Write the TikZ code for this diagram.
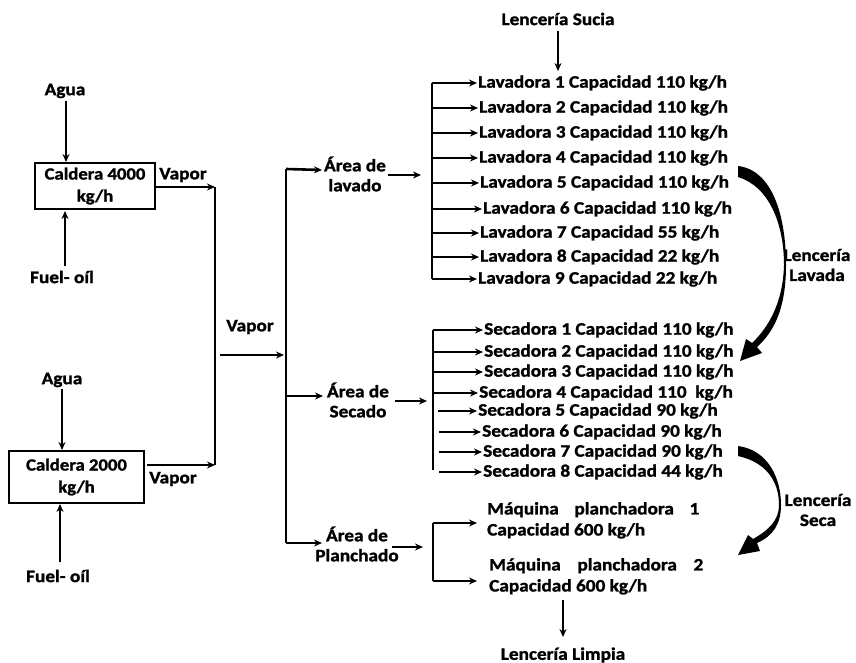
\documentclass[tikz,border=0pt]{standalone}
\usepackage{fontspec}
\setmainfont{Carlito}[FakeStretch=1.1, BoldFeatures={FakeBold=1.4}]
\usetikzlibrary{arrows.meta}
\tikzset{
  lbl/.style={font=\fontsize{17.5}{20}\selectfont\bfseries, inner sep=1pt, align=center},
  wire/.style={line width=2.6pt},
  arr/.style={line width=2.6pt, -{Stealth[length=8pt,width=7pt]}},
  boxst/.style={draw, line width=1.2pt, minimum width=120pt, minimum height=46pt, inner sep=1pt, align=center, font=\fontsize{17}{22}\selectfont\bfseries},
}
\begin{document}
\begin{tikzpicture}[x=1pt,y=-1pt]
\useasboundingbox (0,0) rectangle (856,663);
% boilers
\node[boxst] (c1) at (95,186) {Caldera 4000\\kg/h};
\node[boxst, minimum width=135pt, minimum height=52pt] (c2) at (76.5,477) {Caldera 2000\\kg/h};
\node[lbl] (a1) at (65,91) {Agua};
\node[lbl] (f1) at (62,277) {Fuel- oíl};
\node[lbl] (a2) at (62,380) {Agua};
\node[lbl] (f2) at (58,576) {Fuel- oíl};
\coordinate (a1b) at (66,101);
\coordinate (a1e) at (66,162);
\draw[arr] (a1b) -- (a1e);
\coordinate (f1b) at (65,266);
\coordinate (f1e) at (65,211);
\draw[arr] (f1b) -- (f1e);
\coordinate (a2b) at (62,389);
\coordinate (a2e) at (62,450);
\draw[arr] (a2b) -- (a2e);
\coordinate (f2b) at (60,562);
\coordinate (f2e) at (60,504);
\draw[arr] (f2b) -- (f2e);
% vapor lines
\node[lbl] (v1) at (183,175) {Vapor};
\node[lbl] (v2) at (173,479) {Vapor};
\node[lbl] (v3) at (250,327) {Vapor};
\coordinate (j1) at (215,187);
\coordinate (j2) at (215,465);
\draw[wire] (j1) -- (j2);
\draw[arr] (c1.east |- j1) -- (j1);
\coordinate (c2o) at (147,465);
\draw[arr] (c2o) -- (j2);
\coordinate (vm1) at (220,355);
\coordinate (vm2) at (284,355);
\draw[arr] (vm1) -- (vm2);
% main distributor
\coordinate (d1) at (286,169);
\coordinate (d2) at (286,543);
\draw[wire] (d1) -- (d2);
\node[lbl] (al) at (355,174) {Área de\\lavado};
\node[lbl] (as) at (358,400) {Área de\\Secado};
\node[lbl] (ap) at (357,544) {Área de\\Planchado};
\coordinate (d1e) at (322,170);
\coordinate (dsb) at (286,396);
\coordinate (dse) at (323,396);
\coordinate (dpe) at (322,543);
\draw[arr] (d1) -- (d1e);
\draw[arr] (dsb) -- (dse);
\draw[arr] (d2) -- (dpe);
% area outputs
\coordinate (alo) at (388,175); \coordinate (ali) at (421,175);
\coordinate (aso) at (395,401); \coordinate (asi) at (427,401);
\coordinate (apo) at (392,547); \coordinate (api) at (423,547);
\draw[arr] (alo) -- (ali);
\draw[arr] (aso) -- (asi);
\draw[arr] (apo) -- (api);
% lavadoras
\node[lbl] (ls) at (558,19) {Lencería Sucia};
\coordinate (lsb) at (558,31); \coordinate (lse) at (558,71);
\draw[arr] (lsb) -- (lse);
\foreach \i/\y/\x/\c in {1/83/477/110, 2/108/478/110, 3/133/478/110, 4/158/478/110, 5/183/479/110, 6/209/482/110, 7/233/479/55, 8/257/479/22, 9/279/477/22}{
  \node[lbl, anchor=west] (lav\i) at (\x,\y) {Lavadora \i\ Capacidad \c\ kg/h};
  \coordinate (lb\i) at (432,\y);
  \draw[arr] (lb\i) -- (lav\i.west);
}
\draw[wire] (lb1) -- (lb9);
% secadoras
\foreach \i/\y/\x/\bx/\c in {1/330/483/433/110\ , 2/352/483/433/110\ , 3/372/483/433/110\ , 4/393/478/433/110\ \ , 5/411/477/438/90\ , 6/432/481/439/90\ , 7/452/482/439/90\ , 8/472/482/439/44\ }{
  \node[lbl, anchor=west] (sec\i) at (\x,\y) {Secadora \i\ Capacidad \c kg/h};
  \coordinate (sb\i) at (\bx,\y);
  \draw[arr] (sb\i) -- (sec\i.west);
}
\coordinate (sbt) at (433,330); \coordinate (sbb) at (433,470);
\draw[wire] (sbt) -- (sbb);
% planchadoras
\node[lbl, anchor=north west, align=left] (p1) at (486,501) {\makebox[212pt][s]{Máquina planchadora 1}\\[1pt]Capacidad 600 kg/h};
\node[lbl, anchor=north west, align=left] (p2) at (488,557) {\makebox[214pt][s]{Máquina planchadora 2}\\[1pt]Capacidad 600 kg/h};
\coordinate (pb1) at (433,523); \coordinate (pb2) at (433,581);
\coordinate (pe1) at (477,523); \coordinate (pe2) at (477,581);
\draw[wire] (pb1) -- (pb2);
\draw[arr] (pb1) -- (pe1);
\draw[arr] (pb2) -- (pe2);
\node[lbl] (ll) at (563,655) {Lencería Limpia};
\coordinate (llb) at (563,600); \coordinate (lle) at (563,637);
\draw[arr] (llb) -- (lle);
% curved transfer arrows
\node[lbl] (lv) at (817,265) {Lencería\\Lavada};
\node[lbl] (lsc) at (818,510) {Lencería\\Seca};
\fill (738,166) .. controls (772,170) and (786,215) .. (786,265)
  .. controls (786,305) and (776,330) .. (757,347)
  -- (762,353) -- (740,361) -- (746,339) -- (752,343)
  .. controls (769,327) and (783,302) .. (784,265)
  .. controls (784,222) and (768,186) .. (738,177) -- cycle;
\fill (738,446) .. controls (768,450) and (781,478) .. (781,505)
  .. controls (781,524) and (773,536) .. (757,543)
  -- (760,551) -- (738,555) -- (748,535) -- (753,539)
  .. controls (769,530) and (779,520) .. (779,505)
  .. controls (779,480) and (765,462) .. (738,456) -- cycle;
\end{tikzpicture}
\end{document}
